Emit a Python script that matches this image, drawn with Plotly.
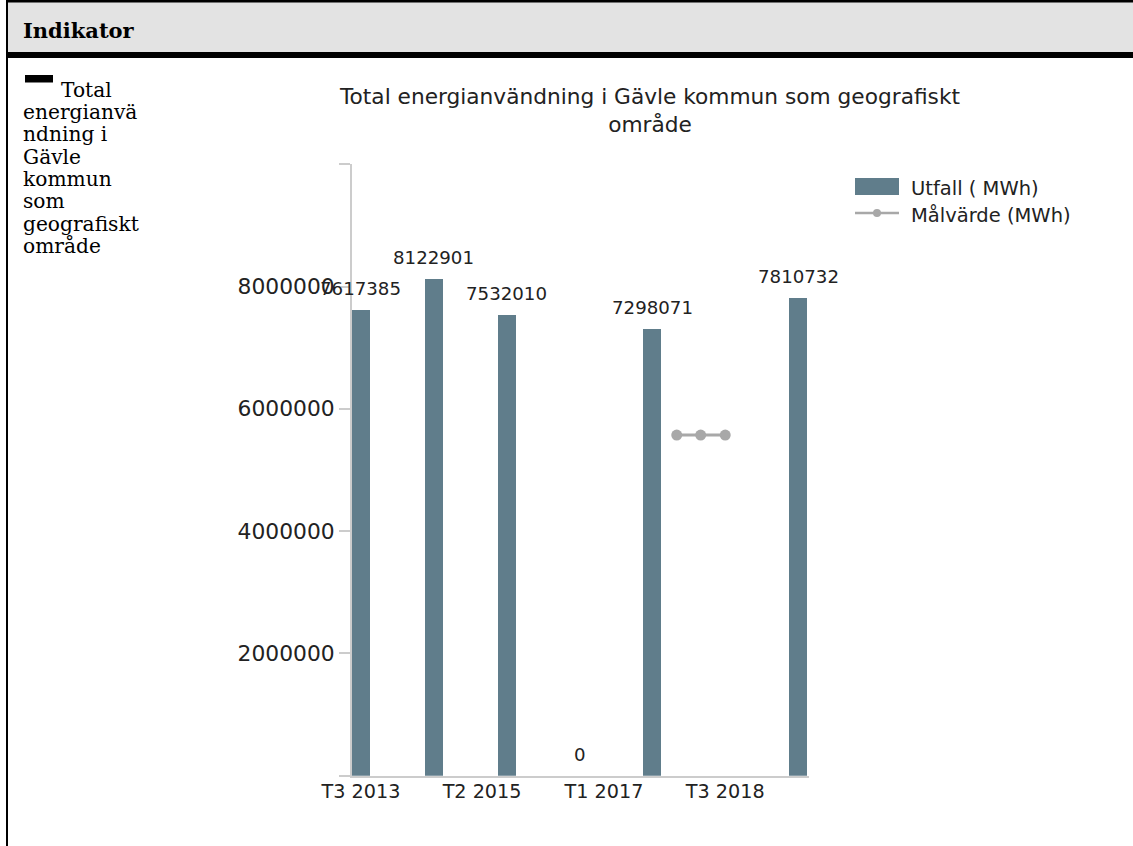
import plotly.graph_objects as go

W, H = 1133, 846

# Utfall per år (T3), 2018 saknas
periods = ["2013-09-01", "2014-09-01", "2015-09-01", "2016-09-01",
           "2017-09-01", "2018-09-01", "2019-09-01"]
utfall = [7617385, 8122901, 7532010, 0, 7298071, None, 7810732]

# Målvärde per tertial 2018
target_periods = ["2018-01-01", "2018-05-01", "2018-09-01"]
malvarde = [5570000, 5570000, 5570000]

tick_dates = ["2013-09-01", "2015-05-01", "2017-01-01", "2018-09-01"]
tick_labels = ["T3 2013", "T2 2015", "T1 2017", "T3 2018"]

y_ticks = [0, 2000000, 4000000, 6000000, 8000000, 10000000]
y_tick_labels = ["", "2000000", "4000000", "6000000", "8000000", ""]

cell_lines = ["Total", "energianvä", "ndning i", "Gävle", "kommun",
              "som", "geografiskt", "område"]

header_text = "Indikator"
title_text = "Total energianvändning i Gävle kommun som geografiskt<br>område"
bar_name = "Utfall ( MWh)"
line_name = "Målvärde (MWh)"

BAR_COLOR = "#607d8b"
LINE_COLOR = "#a8a8a8"
AXIS_COLOR = "#cccccc"
TEXT_COLOR = "#222222"
SANS = "DejaVu Sans"
SERIF = "DejaVu Serif"


def px_x(px):
    return px / W


def px_y(px):
    return 1 - px / H


def paper_rect(x0, y0, x1, y1, color):
    return dict(type="rect", xref="paper", yref="paper",
                x0=px_x(x0), x1=px_x(x1), y0=px_y(y1), y1=px_y(y0),
                fillcolor=color, line=dict(width=0), layer="below")


def create_chart() -> go.Figure:
    fig = go.Figure()

    fig.add_trace(go.Bar(
        x=periods, y=utfall, name=bar_name,
        width=90 * 86400000,
        marker=dict(color=BAR_COLOR, line=dict(width=0)),
        showlegend=False,
        hovertemplate='%{y}<extra></extra>'
    ))

    fig.add_trace(go.Scatter(
        x=target_periods, y=malvarde, name=line_name,
        mode='lines+markers',
        line=dict(color=LINE_COLOR, width=3),
        marker=dict(size=11, color=LINE_COLOR),
        showlegend=False,
        hovertemplate='%{y}<extra></extra>'
    ))

    # värdeetiketter ovanför staplarna
    for d, v in zip(periods, utfall):
        if v is None:
            continue
        fig.add_annotation(
            x=d, y=v, text=str(v), showarrow=False,
            yanchor='bottom', yshift=9,
            font=dict(family=SANS, size=18.2, color=TEXT_COLOR)
        )

    shapes = [
        paper_rect(6, 0, W, 52, "#e3e3e3"),
        paper_rect(6, 0, W, 2.5, "black"),
        paper_rect(6, 52, W, 58, "black"),
        paper_rect(6, 0, 8, H, "black"),
        paper_rect(25, 75, 53, 82.5, "black"),
        # egen legend
        paper_rect(855, 178, 899, 195, BAR_COLOR),
        dict(type="line", xref="paper", yref="paper",
             x0=px_x(855), x1=px_x(899), y0=px_y(213), y1=px_y(213),
             line=dict(color=LINE_COLOR, width=2.5)),
        dict(type="circle", xref="paper", yref="paper",
             x0=px_x(873), x1=px_x(881), y0=px_y(217), y1=px_y(209),
             fillcolor=LINE_COLOR, line=dict(width=0)),
    ]

    annotations = [
        dict(text=f"<b>{header_text}</b>", x=px_x(21), y=px_y(30.4),
             xanchor='left', yanchor='middle',
             font=dict(family=SERIF, size=21, color="black")),
        dict(text=bar_name, x=px_x(909), y=px_y(188.3),
             xanchor='left', yanchor='middle',
             font=dict(family=SANS, size=19.5, color=TEXT_COLOR)),
        dict(text=line_name, x=px_x(909), y=px_y(215.5),
             xanchor='left', yanchor='middle',
             font=dict(family=SANS, size=19.5, color=TEXT_COLOR)),
    ]
    for i, line in enumerate(cell_lines):
        baseline = 96.7 + i * 22.3
        annotations.append(dict(
            text=line, x=px_x(59 if i == 0 else 21), y=px_y(baseline - 7.0),
            xanchor='left', yanchor='middle',
            font=dict(family=SERIF, size=20.2, color="black")))
    for a in annotations:
        fig.add_annotation(xref='paper', yref='paper', showarrow=False, **a)

    fig.update_layout(
        width=W, height=H, autosize=False,
        margin=dict(l=0, r=0, t=0, b=0, autoexpand=False),
        paper_bgcolor='white', plot_bgcolor='rgba(0,0,0,0)',
        title=dict(text=title_text, x=px_x(650), xanchor='center', xref='paper',
                   y=px_y(103.5), yanchor='top', yref='container',
                   font=dict(family=SANS, size=21.7, color=TEXT_COLOR)),
        xaxis=dict(
            type='date', domain=[px_x(352), px_x(809)],
            range=['2013-07-18', '2019-10-26'],
            tickvals=tick_dates, ticktext=tick_labels,
            showgrid=False, zeroline=False, showline=True, automargin=False,
            linecolor=AXIS_COLOR, linewidth=2, ticks='', ticklabelstandoff=-3,
            tickfont=dict(family=SANS, size=19.2, color=TEXT_COLOR)
        ),
        yaxis=dict(
            domain=[px_y(775.7), px_y(164.2)], range=[0, 10000000],
            tickvals=y_ticks, ticktext=y_tick_labels,
            showgrid=False, zeroline=False, showline=True, automargin=False,
            linecolor=AXIS_COLOR, linewidth=2,
            ticks='outside', ticklen=11, tickwidth=1.5, tickcolor=AXIS_COLOR,
            tickfont=dict(family=SANS, size=21.8, color=TEXT_COLOR)
        ),
        shapes=shapes,
        showlegend=False,
        bargap=0
    )
    return fig


fig = create_chart()
fig.write_html("out.html", config={'displayModeBar': False},
               post_script="document.body.style.margin='0';")
